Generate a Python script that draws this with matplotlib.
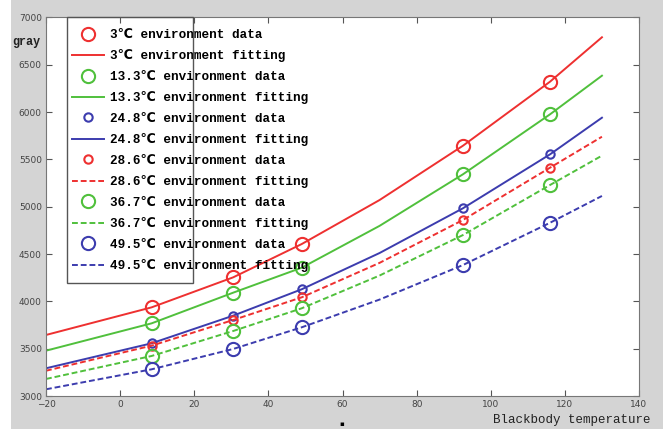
import numpy as np
import matplotlib.pyplot as plt
from matplotlib.patches import Rectangle

# measured points (blackbody temperature -> gray)
x_data = [8.5, 30.5, 49, 92.5, 116]
x_fit = [-20, 8.5, 30.5, 49, 70, 92.5, 116, 130]

env_labels = ["3", "13.3", "24.8", "28.6", "36.7", "49.5"]

y_3 = [3937, 4254, 4606, 5645, 6322]
y_13 = [3768, 4092, 4356, 5343, 5977]
y_24 = [3557, 3849, 4128, 4984, 5554]
y_28 = [3532, 3803, 4043, 4860, 5413]
y_36 = [3423, 3687, 3927, 4701, 5230]
y_49 = [3282, 3497, 3726, 4384, 4831]

fit_3 = [3645, 3937, 4254, 4606, 5071, 5645, 6322, 6791]
fit_13 = [3479, 3768, 4092, 4356, 4798, 5343, 5977, 6385]
fit_24 = [3293, 3557, 3849, 4128, 4511, 4984, 5554, 5941]
fit_28 = [3267, 3532, 3803, 4043, 4407, 4860, 5413, 5740]
fit_36 = [3180, 3423, 3687, 3927, 4273, 4701, 5230, 5540]
fit_49 = [3071, 3282, 3497, 3726, 4019, 4384, 4831, 5114]

red = '#ee3030'
green = '#50c03c'
blue = '#3c3cae'

series = [
    (y_3, fit_3, red, 9.5, '-'),
    (y_13, fit_13, green, 9.5, '-'),
    (y_24, fit_24, blue, 6, '-'),
    (y_28, fit_28, red, 6, (0, (3, 1.5))),
    (y_36, fit_36, green, 9.5, (0, (3, 1.5))),
    (y_49, fit_49, blue, 9.5, (0, (3, 1.5))),
]

mono = ['Liberation Mono', 'DejaVu Sans Mono', 'DejaVu Sans', 'Noto Sans CJK SC']

fig = plt.figure(figsize=(6.63, 4.29), dpi=100, facecolor='#d4d4d4')
fig.patches.append(Rectangle((0, 0), 11/663, 1, transform=fig.transFigure,
                             facecolor='white', edgecolor='none', zorder=-5))
ax = fig.add_axes([46/663, 33/429, 593/663, 378.5/429])

handles = []
labels = []
for (yd, yf, c, ms, ls), lab in zip(series, env_labels):
    hd, = ax.plot(x_data, yd, 'o', mfc='none', mec=c, ms=ms, mew=1.5)
    hf, = ax.plot(x_fit, yf, color=c, lw=1.4, ls=ls)
    handles += [hd, hf]
    labels += [lab + "℃ environment data", lab + "℃ environment fitting"]

ax.set_xlim(-20, 140)
ax.set_ylim(3000, 7000)
ax.set_xticks(np.arange(-20, 141, 20))
ax.set_yticks(np.arange(3000, 7001, 500))
ax.tick_params(direction='in', top=True, right=True, length=4, width=0.8,
               labelsize=6.5, labelcolor='#444444', color='#555555', pad=3)
for s in ax.spines.values():
    s.set_color('#777777')
    s.set_linewidth(0.8)

leg = ax.legend(handles, labels, loc='upper left',
                bbox_to_anchor=(72/663, 1 - 29/429), bbox_transform=fig.transFigure,
                frameon=False, prop={'family': mono, 'size': 9.1, 'weight': 'bold'},
                handlelength=2.5, handletextpad=0.5, labelspacing=0.67,
                borderpad=0, borderaxespad=0)

fig.patches.append(Rectangle((67/663, 1 - 283/429), 126/663, 266/429,
                             transform=fig.transFigure, fill=False,
                             edgecolor='#555555', lw=1.0, zorder=5))

fig.text(12/663, 1 - 42/429, 'gray', family=mono, fontsize=8.5,
         weight='bold', va='center', ha='left', color='#222222')
fig.text(493/663, 1 - 420/429, 'Blackbody temperature', family=mono,
         fontsize=9, va='center', ha='left', color='#222222')
fig.text(342/663, 1 - 424/429, '▪', family=['DejaVu Sans'], fontsize=5,
         va='center', ha='center')

plt.savefig('out.png', dpi=100, facecolor=fig.get_facecolor())
